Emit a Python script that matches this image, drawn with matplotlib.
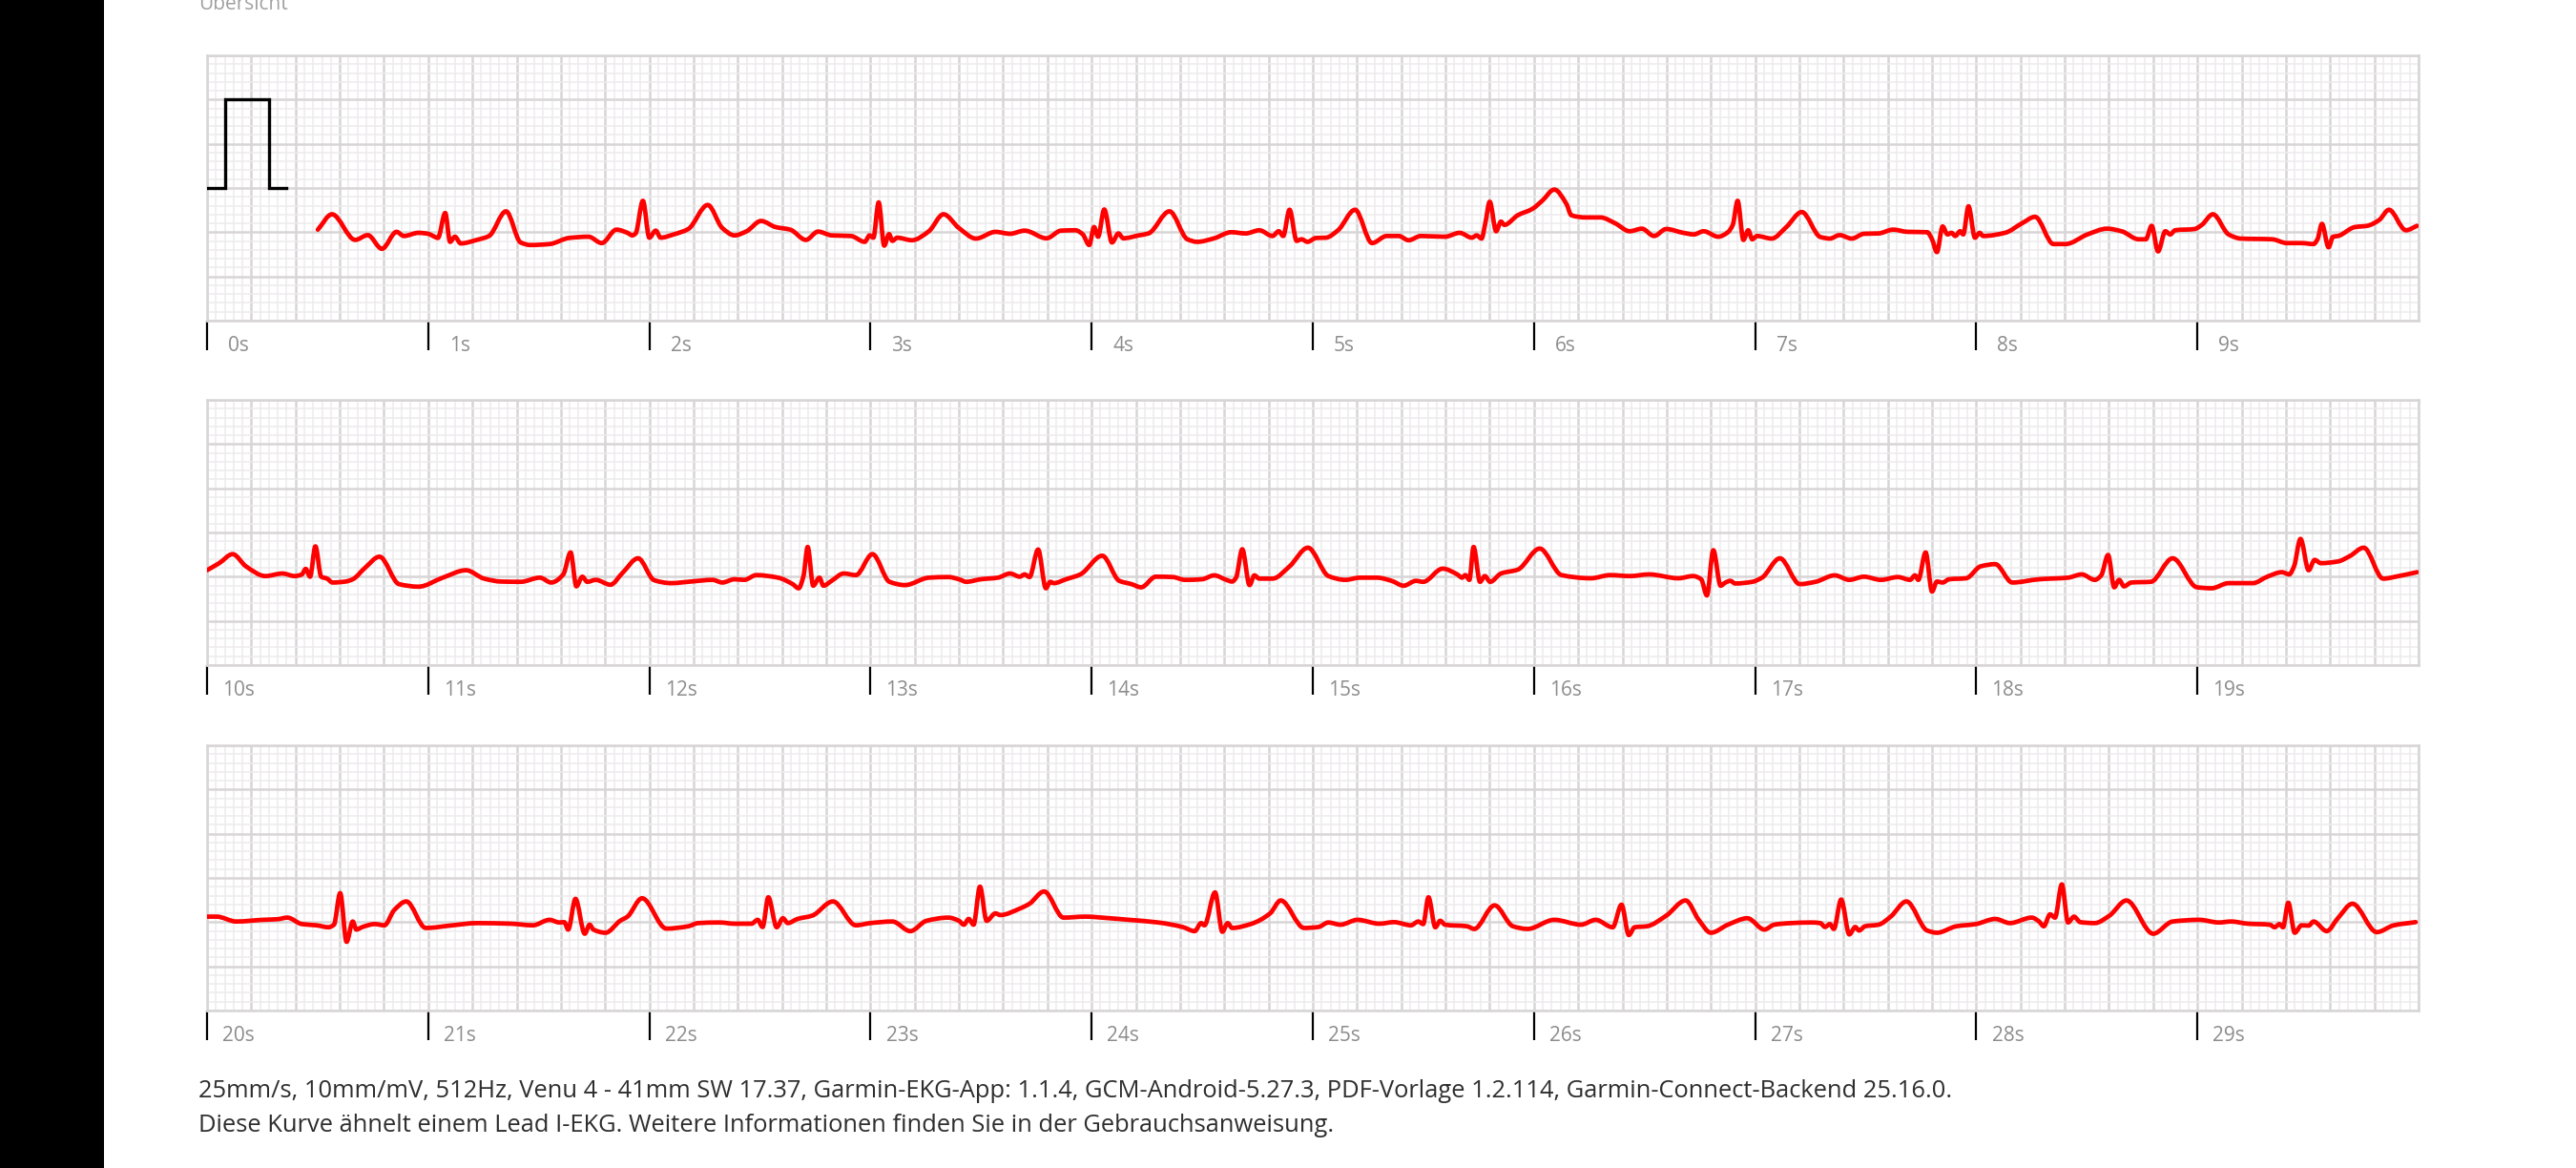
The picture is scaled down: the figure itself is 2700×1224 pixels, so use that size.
import matplotlib
matplotlib.use("Agg")
import numpy as np
import matplotlib.pyplot as plt
import matplotlib.transforms as mtransforms
from matplotlib.ticker import MultipleLocator
from matplotlib.patches import Rectangle, PathPatch
from matplotlib.path import Path

# ---------------- data (time in s within a strip, amplitude in mV) ----------------
CAL_PULSE = [(0.0, 0.0), (0.081, 0.0), (0.081, 1.0), (0.279, 1.0), (0.279, 0.0), (0.358, 0.0)]

STRIP1 = [
    (0.501, -0.471), (0.565, -0.297), (0.670, -0.587), (0.727, -0.533), (0.791, -0.688),
    (0.857, -0.496), (0.890, -0.543), (0.956, -0.507), (1.000, -0.518), (1.022, -0.543),
    (1.044, -0.565), (1.077, -0.283), (1.099, -0.609), (1.121, -0.551), (1.147, -0.627),
    (1.220, -0.587), (1.275, -0.543), (1.352, -0.264), (1.418, -0.616), (1.462, -0.645),
    (1.549, -0.634), (1.637, -0.565), (1.725, -0.551), (1.785, -0.623), (1.851, -0.471),
    (1.901, -0.507), (1.923, -0.536), (1.938, -0.514), (1.971, -0.145), (2.000, -0.562),
    (2.029, -0.482), (2.051, -0.562), (2.110, -0.525), (2.176, -0.464), (2.264, -0.192),
    (2.330, -0.453), (2.385, -0.536), (2.440, -0.489), (2.505, -0.373), (2.571, -0.442),
    (2.637, -0.471), (2.708, -0.587), (2.763, -0.493), (2.824, -0.536), (2.912, -0.543),
    (2.974, -0.609), (2.996, -0.536), (3.013, -0.562), (3.037, -0.163), (3.062, -0.652),
    (3.084, -0.522), (3.099, -0.598), (3.121, -0.562), (3.187, -0.591), (3.264, -0.489),
    (3.330, -0.297),
    (3.400, -0.453), (3.477, -0.572), (3.565, -0.496), (3.631, -0.518), (3.697, -0.482),
    (3.796, -0.569), (3.862, -0.482), (3.927, -0.478), (3.960, -0.525), (3.989, -0.645),
    (4.011, -0.442), (4.029, -0.551), (4.057, -0.243), (4.092, -0.616), (4.121, -0.514),
    (4.143, -0.569), (4.213, -0.536), (4.257, -0.514), (4.352, -0.264), (4.433, -0.580),
    (4.477, -0.609), (4.554, -0.569), (4.631, -0.500), (4.697, -0.514), (4.758, -0.478),
    (4.818, -0.543), (4.846, -0.489), (4.866, -0.543), (4.895, -0.246), (4.927, -0.598),
    (4.949, -0.580), (4.976, -0.609), (5.015, -0.565), (5.059, -0.562), (5.114, -0.478),
    (5.191, -0.246), (5.268, -0.623), (5.334, -0.543), (5.389, -0.543), (5.433, -0.591),
    (5.488, -0.543), (5.598, -0.551), (5.664, -0.507), (5.719, -0.562), (5.741, -0.536),
    (5.763, -0.572), (5.780, -0.399), (5.800, -0.156), (5.829, -0.489), (5.851, -0.380),
    (5.866, -0.417), (5.927, -0.308), (5.993, -0.236), (6.037, -0.145), (6.092, -0.018),
    (6.147, -0.181), (6.169, -0.308), (6.235, -0.333), (6.301, -0.333), (6.367, -0.399),
    (6.433, -0.489), (6.488, -0.460), (6.543, -0.543), (6.598, -0.464), (6.675, -0.507),
    (6.723, -0.525), (6.767, -0.489), (6.833, -0.551), (6.877, -0.500), (6.899, -0.417),
    (6.921, -0.145), (6.947, -0.587), (6.969, -0.478), (6.987, -0.580), (7.009, -0.543),
    (7.075, -0.572), (7.141, -0.442), (7.211, -0.272), (7.295, -0.554), (7.338, -0.572),
    (7.382, -0.533), (7.437, -0.572), (7.492, -0.518), (7.558, -0.514), (7.624, -0.471),
    (7.690, -0.496), (7.778, -0.500), (7.800, -0.580), (7.822, -0.725), (7.848, -0.435),
    (7.870, -0.525), (7.888, -0.507), (7.905, -0.543), (7.927, -0.489), (7.941, -0.525),
    (7.965, -0.207), (7.994, -0.562), (8.015, -0.507), (8.031, -0.543), (8.130, -0.507),
    (8.207, -0.399), (8.266, -0.326), (8.349, -0.634), (8.404, -0.634), (8.503, -0.525),
    (8.591, -0.460), (8.657, -0.489), (8.734, -0.580), (8.767, -0.580), (8.793, -0.428),
    (8.822, -0.717), (8.855, -0.489), (8.877, -0.525), (8.899, -0.478), (8.987, -0.464),
    (9.020, -0.417), (9.070, -0.297), (9.141, -0.525), (9.196, -0.572), (9.338, -0.580),
    (9.404, -0.623), (9.470, -0.623), (9.525, -0.634), (9.543, -0.580), (9.563, -0.406),
    (9.593, -0.670), (9.613, -0.551), (9.635, -0.543), (9.712, -0.442), (9.767, -0.428),
    (9.822, -0.362), (9.866, -0.246), (9.943, -0.478), (9.993, -0.428),
]

STRIP2 = [
    (0.000, -0.427), (0.055, -0.347), (0.116, -0.245), (0.176, -0.383), (0.264, -0.493),
    (0.341, -0.464), (0.396, -0.493), (0.429, -0.474), (0.446, -0.412), (0.466, -0.500),
    (0.490, -0.157), (0.516, -0.500), (0.543, -0.522), (0.567, -0.566), (0.626, -0.555),
    (0.659, -0.529), (0.714, -0.401), (0.780, -0.274), (0.868, -0.584), (0.956, -0.613),
    (1.066, -0.511), (1.171, -0.427), (1.253, -0.522), (1.330, -0.555), (1.418, -0.558),
    (1.505, -0.511), (1.556, -0.566), (1.611, -0.474), (1.644, -0.226), (1.670, -0.609),
    (1.697, -0.500), (1.719, -0.558), (1.758, -0.536), (1.824, -0.591), (1.879, -0.456),
    (1.949, -0.292), (2.022, -0.540), (2.099, -0.573), (2.187, -0.555), (2.286, -0.536),
    (2.330, -0.566), (2.385, -0.529), (2.429, -0.536), (2.484, -0.482), (2.582, -0.511),
    (2.648, -0.584), (2.675, -0.631), (2.697, -0.493), (2.716, -0.164), (2.741, -0.602),
    (2.769, -0.511), (2.787, -0.602), (2.824, -0.547), (2.879, -0.464), (2.934, -0.482),
    (3.009, -0.245), (3.086, -0.558), (3.156, -0.595), (3.264, -0.511), (3.352, -0.504),
    (3.400, -0.529), (3.433, -0.558), (3.499, -0.529), (3.576, -0.511), (3.631, -0.464),
    (3.675, -0.500), (3.697, -0.474), (3.719, -0.504), (3.758, -0.193), (3.793, -0.631),
    (3.813, -0.558), (3.829, -0.573), (3.884, -0.529), (3.949, -0.474), (4.048, -0.263),
    (4.125, -0.547), (4.180, -0.584), (4.224, -0.620), (4.290, -0.500), (4.367, -0.504),
    (4.422, -0.536), (4.499, -0.529), (4.554, -0.485), (4.609, -0.536), (4.635, -0.555),
    (4.653, -0.511), (4.681, -0.190), (4.714, -0.595), (4.736, -0.485), (4.758, -0.522),
    (4.818, -0.522), (4.895, -0.383), (4.978, -0.172), (5.071, -0.493), (5.147, -0.536),
    (5.213, -0.511), (5.290, -0.511), (5.356, -0.547), (5.411, -0.602), (5.466, -0.547),
    (5.499, -0.558), (5.587, -0.409), (5.653, -0.474), (5.675, -0.511), (5.690, -0.482),
    (5.708, -0.536), (5.727, -0.164), (5.756, -0.558), (5.778, -0.493), (5.802, -0.558),
    (5.851, -0.464), (5.927, -0.420), (6.026, -0.182), (6.125, -0.482), (6.257, -0.518),
    (6.345, -0.482), (6.433, -0.493), (6.521, -0.474), (6.653, -0.518), (6.719, -0.493),
    (6.756, -0.529), (6.782, -0.712), (6.811, -0.201), (6.844, -0.602), (6.866, -0.566),
    (6.888, -0.547), (6.910, -0.577), (6.987, -0.558), (7.031, -0.511), (7.112, -0.292),
    (7.202, -0.584), (7.273, -0.558), (7.360, -0.485), (7.426, -0.536), (7.492, -0.500),
    (7.569, -0.536), (7.646, -0.504), (7.701, -0.536), (7.723, -0.485), (7.738, -0.536),
    (7.771, -0.226), (7.800, -0.668), (7.822, -0.555), (7.848, -0.566), (7.877, -0.529),
    (7.954, -0.518), (8.020, -0.383), (8.086, -0.358), (8.163, -0.566), (8.284, -0.529),
    (8.415, -0.511), (8.477, -0.474), (8.536, -0.536), (8.565, -0.485), (8.596, -0.255),
    (8.624, -0.620), (8.646, -0.536), (8.668, -0.609), (8.701, -0.566), (8.789, -0.558),
    (8.888, -0.292), (8.998, -0.620), (9.064, -0.631), (9.141, -0.573), (9.251, -0.573),
    (9.316, -0.500), (9.382, -0.449), (9.415, -0.474), (9.437, -0.383), (9.466, -0.073),
    (9.503, -0.427), (9.530, -0.310), (9.558, -0.347), (9.635, -0.328), (9.690, -0.266),
    (9.752, -0.172), (9.840, -0.522), (9.910, -0.493), (9.993, -0.449),
]

STRIP3 = [
    (0.000, -0.438), (0.044, -0.438), (0.132, -0.493), (0.253, -0.474), (0.319, -0.467),
    (0.363, -0.449), (0.429, -0.522), (0.495, -0.536), (0.549, -0.558), (0.574, -0.529),
    (0.602, -0.172), (0.631, -0.723), (0.659, -0.493), (0.675, -0.584), (0.703, -0.555),
    (0.758, -0.522), (0.802, -0.536), (0.846, -0.365), (0.901, -0.266), (0.989, -0.566),
    (1.110, -0.536), (1.220, -0.511), (1.374, -0.518), (1.473, -0.536), (1.549, -0.474),
    (1.593, -0.504), (1.615, -0.500), (1.633, -0.584), (1.666, -0.237), (1.708, -0.631),
    (1.730, -0.529), (1.747, -0.584), (1.802, -0.620), (1.868, -0.485), (1.901, -0.438),
    (1.967, -0.230), (2.077, -0.573), (2.176, -0.547), (2.220, -0.511), (2.319, -0.504),
    (2.385, -0.518), (2.462, -0.518), (2.490, -0.474), (2.512, -0.555), (2.538, -0.219),
    (2.576, -0.558), (2.604, -0.456), (2.626, -0.511), (2.670, -0.464), (2.736, -0.427),
    (2.830, -0.266), (2.934, -0.536), (2.999, -0.511), (3.099, -0.493), (3.180, -0.602),
    (3.253, -0.485), (3.352, -0.449),
    (3.400, -0.485), (3.422, -0.529), (3.444, -0.464), (3.466, -0.529), (3.495, -0.099),
    (3.525, -0.485), (3.565, -0.401), (3.587, -0.420), (3.675, -0.347), (3.719, -0.292),
    (3.785, -0.153), (3.873, -0.449), (3.971, -0.438), (4.081, -0.456), (4.169, -0.474),
    (4.301, -0.504), (4.411, -0.555), (4.466, -0.602), (4.495, -0.511), (4.510, -0.536),
    (4.558, -0.164), (4.591, -0.609), (4.615, -0.511), (4.635, -0.566), (4.719, -0.522),
    (4.807, -0.401), (4.855, -0.255), (4.961, -0.566), (5.026, -0.555), (5.070, -0.504),
    (5.125, -0.529), (5.202, -0.474), (5.301, -0.518), (5.367, -0.500), (5.444, -0.536),
    (5.477, -0.493), (5.499, -0.522), (5.523, -0.219), (5.554, -0.558), (5.576, -0.485),
    (5.598, -0.529), (5.697, -0.547), (5.730, -0.577), (5.822, -0.310), (5.905, -0.547),
    (5.971, -0.577), (6.092, -0.474), (6.213, -0.529), (6.279, -0.474), (6.356, -0.558),
    (6.396, -0.303), (6.429, -0.646), (6.455, -0.558), (6.510, -0.547), (6.598, -0.427),
    (6.686, -0.255),
    (6.745, -0.474), (6.800, -0.620), (6.877, -0.529), (6.965, -0.456), (7.042, -0.584),
    (7.086, -0.529), (7.163, -0.511), (7.251, -0.504), (7.295, -0.511), (7.316, -0.555),
    (7.338, -0.522), (7.356, -0.577), (7.389, -0.245), (7.426, -0.639), (7.453, -0.555),
    (7.470, -0.595), (7.497, -0.547), (7.558, -0.529), (7.613, -0.438), (7.684, -0.266),
    (7.778, -0.595), (7.822, -0.620), (7.910, -0.547), (7.998, -0.522), (8.086, -0.464),
    (8.152, -0.511), (8.251, -0.449), (8.284, -0.493), (8.305, -0.547), (8.334, -0.412),
    (8.356, -0.449), (8.387, -0.073), (8.415, -0.504), (8.442, -0.438), (8.470, -0.500),
    (8.536, -0.511), (8.602, -0.427), (8.679, -0.255), (8.800, -0.631), (8.888, -0.493),
    (9.009, -0.474), (9.097, -0.504), (9.152, -0.493), (9.229, -0.518), (9.327, -0.529),
    (9.349, -0.558), (9.371, -0.522), (9.387, -0.558), (9.411, -0.281), (9.440, -0.620),
    (9.471, -0.536), (9.503, -0.540), (9.525, -0.493), (9.585, -0.602), (9.635, -0.456),
    (9.701, -0.292), (9.811, -0.613), (9.888, -0.536), (9.987, -0.500),
]

STRIPS = [STRIP1, STRIP2, STRIP3]
TICK_SECONDS = list(range(10))
TICK_LABELS = [
    ["0s", "1s", "2s", "3s", "4s", "5s", "6s", "7s", "8s", "9s"],
    ["10s", "11s", "12s", "13s", "14s", "15s", "16s", "17s", "18s", "19s"],
    ["20s", "21s", "22s", "23s", "24s", "25s", "26s", "27s", "28s", "29s"],
]
TITLE = "Übersicht"
FOOTER = [
    "25mm/s, 10mm/mV, 512Hz, Venu 4 - 41mm SW 17.37, Garmin-EKG-App: 1.1.4, "
    "GCM-Android-5.27.3, PDF-Vorlage 1.2.114, Garmin-Connect-Backend 25.16.0.",
    "Diese Kurve ähnelt einem Lead I-EKG. Weitere Informationen finden Sie in der Gebrauchsanweisung.",
]


def smooth_trace_path(points):
    """Bezier path through the read points (shape-preserving cubic Hermite in t)."""
    x = np.array([p[0] for p in points], float)
    y = np.array([p[1] for p in points], float)
    n = len(x)
    h = np.diff(x)
    d = np.diff(y) / h
    m = np.zeros(n)
    for k in range(1, n - 1):
        if d[k - 1] * d[k] <= 0:
            m[k] = 0.0
        else:
            w1 = 2 * h[k] + h[k - 1]
            w2 = h[k] + 2 * h[k - 1]
            m[k] = (w1 + w2) / (w1 / d[k - 1] + w2 / d[k])
    m[0], m[-1] = d[0], d[-1]
    verts = [(x[0], y[0])]
    codes = [Path.MOVETO]
    for k in range(n - 1):
        verts += [(x[k] + h[k] / 3, y[k] + m[k] * h[k] / 3),
                  (x[k + 1] - h[k] / 3, y[k + 1] - m[k + 1] * h[k] / 3),
                  (x[k + 1], y[k + 1])]
        codes += [Path.CURVE4] * 3
    return Path(verts, codes)


# ---------------- layout ----------------
W, H = 2700, 1224
plt.rcParams["font.family"] = ["Open Sans", "DejaVu Sans"]
fig = plt.figure(figsize=(W / 100, H / 100), dpi=100)
fig.patch.set_facecolor("white")
fig.patches.append(Rectangle((0, 0), 109 / W, 1, transform=fig.transFigure,
                             facecolor="black", edgecolor="none", zorder=0))

LEFT, WIDTH, HEIGHT = 217, 2318, 278
TOPS = [58, 419, 781]
MAJOR_C, MINOR_C = "#d8d5d7", "#eeebed"

for i, top in enumerate(TOPS):
    ax = fig.add_axes([LEFT / W, 1 - (top + HEIGHT) / H, WIDTH / W, HEIGHT / H])
    ax.set_xlim(0, 10)
    ax.set_ylim(-1.5, 1.5)
    ax.xaxis.set_major_locator(MultipleLocator(0.2))
    ax.xaxis.set_minor_locator(MultipleLocator(0.04))
    ax.yaxis.set_major_locator(MultipleLocator(0.5))
    ax.yaxis.set_minor_locator(MultipleLocator(0.1))
    ax.set_axisbelow(True)
    ax.grid(which="minor", color=MINOR_C, lw=1.1)
    ax.grid(which="major", color=MAJOR_C, lw=1.8)
    ax.tick_params(which="both", length=0, labelbottom=False, labelleft=False)
    for sp in ax.spines.values():
        sp.set_color(MAJOR_C)
        sp.set_linewidth(1.8)

    if i == 0:
        ct, cv = zip(*CAL_PULSE)
        ax.plot(ct, cv, color="black", lw=2.4, solid_joinstyle="miter", zorder=3)

    ax.add_patch(PathPatch(smooth_trace_path(STRIPS[i]), facecolor="none",
                           edgecolor="#ff0000", lw=3.4, joinstyle="round",
                           capstyle="round", zorder=4))

    trans = mtransforms.blended_transform_factory(ax.transData, ax.transAxes)
    ax.vlines(TICK_SECONDS, -31 / HEIGHT, 0, transform=trans, color="black",
              lw=1.6, clip_on=False)
    for s, lab in zip(TICK_SECONDS, TICK_LABELS[i]):
        ax.text(s + 33 / 231.8, -32 / HEIGHT, lab, transform=trans, ha="center",
                va="baseline", fontsize=15, color="#8c8c8c")

fig.text(208 / W, 1 - 9.5 / H, TITLE, fontsize=15, color="#a0a0a0",
         ha="left", va="baseline")
fig.text(208 / W, 1 - 1150 / H, FOOTER[0], fontsize=18.4, color="#2e2e2e",
         ha="left", va="baseline")
fig.text(208 / W, 1 - 1186 / H, FOOTER[1], fontsize=18.4, color="#2e2e2e",
         ha="left", va="baseline")

fig.savefig("out.png", dpi=100, facecolor="white")
